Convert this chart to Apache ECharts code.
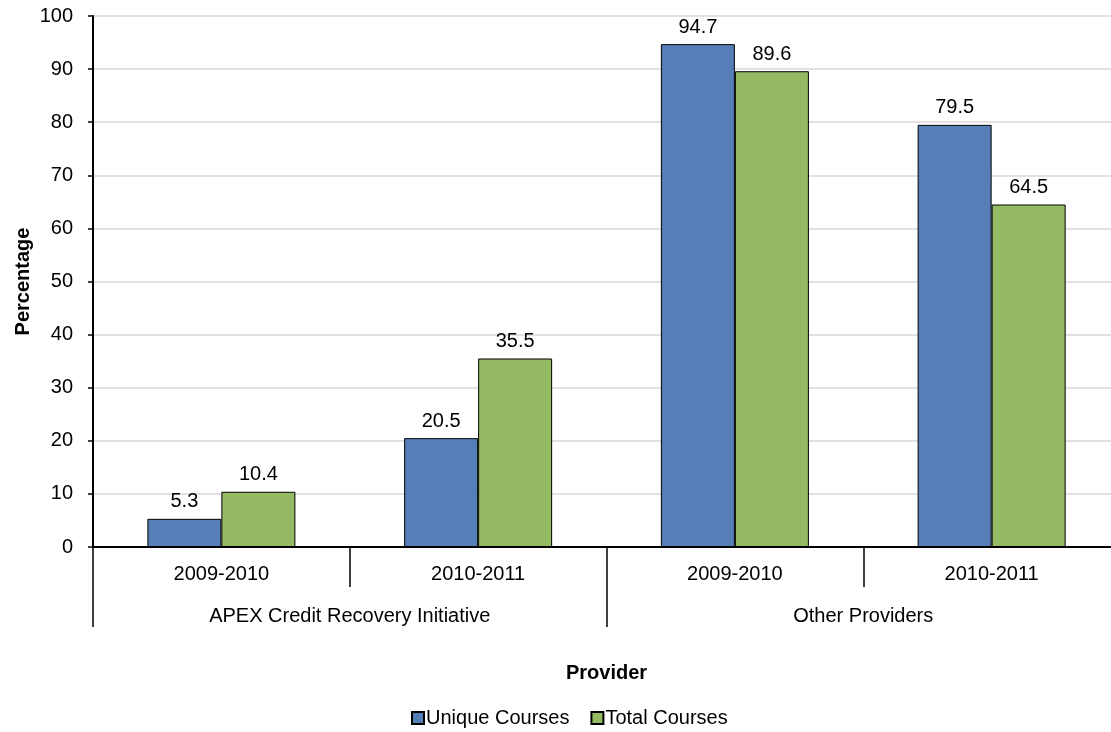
<!DOCTYPE html>
<html>
<head>
<meta charset="utf-8">
<script src="https://cdn.jsdelivr.net/npm/echarts@6/dist/echarts.min.js"></script>
<style>
  html, body { margin: 0; padding: 0; background: #fff; }
  #main { width: 1111px; height: 732px; }
</style>
</head>
<body>
<div id="main"></div>
<script>
// school years, grouped by provider
var years = ["2009-2010", "2010-2011", "2009-2010", "2010-2011"];
var providers = ["APEX Credit Recovery Initiative", "Other Providers"];
var uniqueCourses = [5.3, 20.5, 94.7, 79.5];
var totalCourses = [10.4, 35.5, 89.6, 64.5];
var yTicks = [0, 10, 20, 30, 40, 50, 60, 70, 80, 90, 100];

var font = "Liberation Sans, Arial, sans-serif";

var myChart = echarts.init(document.getElementById("main"));
myChart.setOption({
    textStyle: { fontFamily: font },
    animation: false,
    grid: {
        left: 93,
        right: -9,
        top: 16,
        bottom: 185,
        outerBoundsMode: "none",
        containLabel: false,
    },
    legend: {
        top: 703,
        left: 406,
        itemWidth: 12,
        itemHeight: 12,
        itemGap: 21,
        icon: "rect",
        textStyle: { fontSize: 20, color: "#000", fontFamily: font, padding: [0, 0, 0, -3] },
        data: ["Unique Courses", "Total Courses"],
    },
    xAxis: [
        {
            type: "category",
            data: years,
            name: "Provider",
            nameLocation: "middle",
            nameGap: 116,
            nameMoveOverlap: false,
            nameTextStyle: { fontSize: 20, fontWeight: "bold", color: "#000", fontFamily: font },
            axisLine: { lineStyle: { color: "#000", width: 2 } },
            axisTick: { show: true, interval: 0, length: 40, lineStyle: { color: "#000", width: 1.5 } },
            axisLabel: { interval: 0, margin: 17, fontSize: 20, color: "#000", fontFamily: font },
        },
        {
            type: "category",
            data: providers,
            position: "bottom",
            axisLine: { show: false },
            axisTick: { show: true, interval: 0, length: 80, lineStyle: { color: "#000", width: 1.5 } },
            axisLabel: { interval: 0, margin: 59, fontSize: 20, color: "#000", fontFamily: font },
        },
    ],
    yAxis: {
        type: "value",
        min: yTicks[0],
        max: yTicks[yTicks.length - 1],
        interval: 10,
        name: "Percentage",
        nameLocation: "middle",
        nameGap: 60,
        nameMoveOverlap: false,
        nameTextStyle: { fontSize: 20, fontWeight: "bold", color: "#000", fontFamily: font },
        axisLine: { show: true, lineStyle: { color: "#000", width: 2 } },
        axisTick: { show: true, length: 5, lineStyle: { color: "#000", width: 1.5 } },
        axisLabel: { margin: 20, fontSize: 20, color: "#000", fontFamily: font },
        splitLine: { lineStyle: { color: "#D9D9D9", width: 1.5 } },
    },
    series: [
        {
            name: "Unique Courses",
            type: "bar",
            data: uniqueCourses,
            barWidth: 74,
            barGap: "0%",
            itemStyle: { color: "#567EB7", borderColor: "#000", borderWidth: 1 },
            label: { show: true, position: "top", distance: 7, fontSize: 20, color: "#000", fontFamily: font },
        },
        {
            name: "Total Courses",
            type: "bar",
            data: totalCourses,
            barWidth: 74,
            barGap: "0%",
            itemStyle: { color: "#94BA63", borderColor: "#000", borderWidth: 1 },
            label: { show: true, position: "top", distance: 7, fontSize: 20, color: "#000", fontFamily: font },
        },
    ],
});
</script>
</body>
</html>
